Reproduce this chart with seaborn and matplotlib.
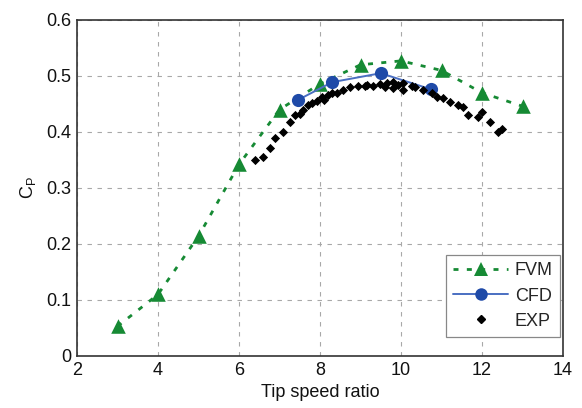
import matplotlib
matplotlib.use("Agg")
import matplotlib.pyplot as plt
import seaborn as sns
import pandas as pd
from matplotlib.lines import Line2D

# ---- data ----
fvm_tsr = [3, 4, 5, 6, 7, 8, 9, 10, 11, 12, 13]
fvm_cp = [0.053, 0.110, 0.214, 0.342, 0.440, 0.486, 0.520, 0.527, 0.510, 0.470, 0.446]

cfd_tsr = [7.45, 8.3, 9.5, 10.75]
cfd_cp = [0.457, 0.489, 0.505, 0.476]

exp_tsr = [6.40, 6.60, 6.77, 6.89, 7.09, 7.26, 7.38, 7.58, 7.70, 7.80, 7.93, 8.05,
           8.20, 8.42, 8.57, 8.74, 8.94, 9.16, 9.31, 9.48, 9.65, 9.80, 9.80, 9.93,
           10.05, 10.05, 10.27, 10.35, 10.54, 10.77, 10.89, 11.04, 11.20, 11.40,
           11.53, 11.65, 11.90, 12.00, 12.20, 12.40, 12.50, 7.50, 8.10, 8.30, 9.10, 9.60]
exp_cp = [0.350, 0.355, 0.372, 0.390, 0.400, 0.418, 0.430, 0.440, 0.448, 0.452,
          0.455, 0.462, 0.466, 0.470, 0.475, 0.480, 0.482, 0.484, 0.483, 0.486,
          0.487, 0.490, 0.478, 0.484, 0.488, 0.475, 0.482, 0.480, 0.475, 0.470,
          0.462, 0.460, 0.454, 0.448, 0.445, 0.430, 0.427, 0.436, 0.418, 0.400,
          0.405, 0.433, 0.458, 0.470, 0.482, 0.480]

x_ticks = [2, 4, 6, 8, 10, 12, 14]
y_ticks = [0, 0.1, 0.2, 0.3, 0.4, 0.5, 0.6]
y_tick_labels = ["0", "0.1", "0.2", "0.3", "0.4", "0.5", "0.6"]

green = "#168a34"
blue_m = "#1f4aa8"
blue_l = "#4a6fc2"

sns.set_style("whitegrid")
plt.rcParams["font.family"] = ["Liberation Sans", "DejaVu Sans"]
plt.rcParams["mathtext.fontset"] = "custom"
plt.rcParams["mathtext.rm"] = "Liberation Sans"
plt.rcParams["mathtext.it"] = "Liberation Sans"

fig = plt.figure(figsize=(5.82, 4.08), dpi=100)
ax = fig.add_axes([77/582, 1-356/408, (563-77)/582, (356-20)/408])

df_fvm = pd.DataFrame({"tsr": fvm_tsr, "cp": fvm_cp})
df_cfd = pd.DataFrame({"tsr": cfd_tsr, "cp": cfd_cp})
df_exp = pd.DataFrame({"tsr": exp_tsr, "cp": exp_cp})

dash = (0, (1.8, 3.0))
sns.lineplot(data=df_fvm, x="tsr", y="cp", ax=ax, color=green, linestyle=dash,
             linewidth=2.0, zorder=2)
sns.scatterplot(data=df_fvm, x="tsr", y="cp", ax=ax, color=green, marker="^", s=110,
                edgecolor=green, linewidth=0, zorder=3)
sns.lineplot(data=df_cfd, x="tsr", y="cp", ax=ax, color=blue_l, linewidth=1.4, zorder=3)
sns.scatterplot(data=df_cfd, x="tsr", y="cp", ax=ax, color=blue_m, marker="o", s=90,
                edgecolor=blue_m, linewidth=0, zorder=4)
sns.scatterplot(data=df_exp, x="tsr", y="cp", ax=ax, color="black", marker="D", s=22,
                edgecolor="black", linewidth=0, zorder=5)

ax.set_xlim(2, 14)
ax.set_ylim(0, 0.6)
ax.set_xticks(x_ticks)
ax.set_yticks(y_ticks)
ax.set_yticklabels(y_tick_labels)
ax.grid(True, color="#a8a8a8", linestyle=(0, (4, 5)), linewidth=0.8)
for s in ax.spines.values():
    s.set_color("#333333")
    s.set_linewidth(1.2)
ax.tick_params(axis="both", labelsize=13, colors="#111111", direction="in", length=0, pad=4)
ax.set_xlabel("Tip speed ratio", fontsize=13, labelpad=4, color="#111111")
ax.set_ylabel(r"$\mathregular{C_P}$", fontsize=13, labelpad=6, color="#111111")

handles = [
    Line2D([], [], color=green, linestyle=dash, linewidth=2.0, marker="^",
           markersize=10, markeredgewidth=0),
    Line2D([], [], color=blue_l, linewidth=1.4, marker="o", markerfacecolor=blue_m,
           markersize=9, markeredgewidth=0),
    Line2D([], [], color="black", linestyle="none", marker="D", markersize=4.5),
]
leg = ax.legend(handles, ["FVM", "CFD", "EXP"], loc="lower right", fontsize=13,
                frameon=True, fancybox=False, edgecolor="#888888", framealpha=1,
                handlelength=3.0, borderpad=0.4, labelspacing=0.45, handletextpad=0.4,
                borderaxespad=0, bbox_to_anchor=(0.994, 0.057))
leg.get_frame().set_linewidth(0.9)

fig.savefig("out.png", dpi=100)
